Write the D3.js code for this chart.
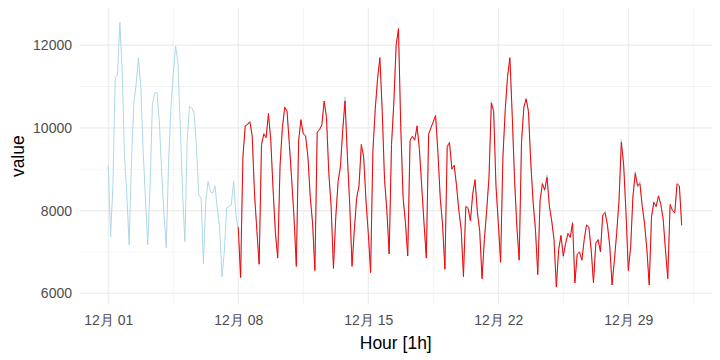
<!DOCTYPE html>
<html><head><meta charset="utf-8">
<script src="https://cdn.jsdelivr.net/npm/d3@7/dist/d3.min.js"></script>
<style>
html,body{margin:0;padding:0;background:#fff;}
svg{display:block;font-family:"Liberation Sans","Noto Sans CJK SC",Arial,sans-serif;}
</style></head><body>
<svg id="chart" width="720" height="360"></svg>
<script>
// ---- data (3-hourly readings) ----
const actualStart = "2023-12-01T00:00:00Z";
const fittedStart = "2023-12-08T00:00:00Z";
const stepHours = 3;

const actual = [
  9100, 7370, 8600, 11210, 11300, 12550, 11400, 9300,   // 12-01
  8400, 7170, 9190, 10560, 11050, 11700, 11000, 9500,   // 12-02
  8300, 7170, 8550, 10560, 10850, 10850, 10160, 8950,   // 12-03
  7900, 7100, 9190, 10480, 11300, 11980, 11600, 10080,  // 12-04
  8450, 7250, 9680, 10520, 10480, 10360, 9520, 8380,    // 12-05
  8300, 6720, 8220, 8710, 8460, 8420, 8590, 8020,       // 12-06
  7580, 6400, 7010, 8060, 8100, 8140, 8710, 7900,       // 12-07
  7540, 6420, 9350, 10000, 10120, 10120, 9840, 8460,    // 12-08
  7580, 6720, 9520, 9880, 9800, 10280, 9760, 8550,      // 12-09
  7490, 6890, 9030, 10040, 10440, 10450, 9680, 8790,    // 12-10
  7900, 6720, 9680, 10160, 9880, 9840, 9350, 8380,      // 12-11
  7740, 6610, 9880, 10000, 10040, 10600, 10300, 8950,   // 12-12
  8140, 6650, 7800, 8710, 9110, 10000, 10750, 9350,     // 12-13
  8200, 6700, 7500, 8340, 8550, 9520, 9350, 8300,       // 12-14
  7500, 6600, 9520, 10480, 11130, 11620, 10480, 8790,   // 12-15
  8060, 6970, 9520, 10650, 11940, 12350, 10080, 8380,   // 12-16
  7740, 6950, 9680, 9760, 9720, 9960, 9520, 8630,       // 12-17
  7740, 6870, 9840, 10040, 10120, 10250, 9430, 8340,    // 12-18
  7700, 6620, 9520, 9600, 9030, 9070, 8670, 8060,       // 12-19
  7580, 6440, 8060, 8100, 7780, 8460, 8710, 7980,       // 12-20
  7540, 6400, 7330, 7980, 8870, 10650, 10450, 8630,     // 12-21
  7740, 6800, 9350, 10400, 11210, 11660, 10320, 8790,   // 12-22
  7660, 6850, 9680, 10440, 10730, 10360, 9190, 8220,    // 12-23
  7580, 6500, 8220, 8670, 8460, 8870, 8140, 7780,       // 12-24
  7330, 6200, 7090, 7370, 6850, 7250, 7410, 7370,       // 12-25
  7740, 6300, 6930, 6970, 6810, 7250, 7660, 7620,       // 12-26
  7090, 6280, 7250, 7250, 7050, 7860, 7980, 7700,       // 12-27
  7170, 6260, 6770, 7500, 8220, 9720, 9110, 7980,       // 12-28
  6600, 7150, 8300, 8950, 8550, 8710, 8140, 7660,       // 12-29
  7090, 6250, 7820, 8220, 8080, 8380, 8140, 7820,       // 12-30
  7090, 6400, 8100, 8060, 7920, 8590, 8550, 7620        // 12-31
];

const fitted = [
  7600, 6380, 9300, 10050, 10080, 10150, 9800, 8400,    // 12-08
  7520, 6700, 9600, 9850, 9760, 10350, 9700, 8500,      // 12-09
  7450, 6850, 9100, 10000, 10500, 10400, 9600, 8750,    // 12-10
  7850, 6650, 9700, 10200, 9850, 9800, 9300, 8320,      // 12-11
  7700, 6550, 9900, 9950, 10080, 10650, 10250, 8900,    // 12-12
  8100, 6600, 7850, 8700, 9050, 9950, 10650, 9300,      // 12-13
  8150, 6650, 7550, 8300, 8600, 9600, 9300, 8250,       // 12-14
  7450, 6500, 9450, 10450, 11200, 11700, 10400, 8750,   // 12-15
  8000, 6950, 9600, 10600, 12000, 12400, 10000, 8300,   // 12-16
  7700, 6900, 9700, 9800, 9700, 10050, 9500, 8600,      // 12-17
  7700, 6850, 9850, 10000, 10150, 10300, 9400, 8300,    // 12-18
  7650, 6580, 9550, 9650, 9000, 9100, 8600, 8000,       // 12-19
  7550, 6400, 8100, 8050, 7750, 8400, 8750, 7950,       // 12-20
  7500, 6350, 7300, 8000, 8800, 10600, 10400, 8600,     // 12-21
  7700, 6750, 9300, 10450, 11250, 11700, 10300, 8750,   // 12-22
  7600, 6800, 9650, 10500, 10700, 10400, 9150, 8200,    // 12-23
  7550, 6450, 8250, 8650, 8500, 8800, 8100, 7750,       // 12-24
  7300, 6150, 7050, 7400, 6900, 7200, 7450, 7350,       // 12-25
  7700, 6250, 6950, 7000, 6800, 7300, 7650, 7600,       // 12-26
  7050, 6250, 7200, 7300, 7000, 7900, 7950, 7650,       // 12-27
  7150, 6200, 6800, 7450, 8250, 9650, 9100, 7950,       // 12-28
  6550, 7100, 8350, 8900, 8600, 8650, 8100, 7700,       // 12-29
  7050, 6200, 7850, 8200, 8100, 8350, 8150, 7800,       // 12-30
  7050, 6350, 8150, 8000, 7950, 8650, 8600, 7650        // 12-31
];

const xTickDates  = ["2023-12-01T00:00:00Z","2023-12-08T00:00:00Z","2023-12-15T00:00:00Z","2023-12-22T00:00:00Z","2023-12-29T00:00:00Z"];
const xTickLabels = ["12月 01","12月 08","12月 15","12月 22","12月 29"];
const xMinorDates = ["2023-12-04T12:00:00Z","2023-12-11T12:00:00Z","2023-12-18T12:00:00Z","2023-12-25T12:00:00Z","2024-01-01T12:00:00Z"];
const xDomainDates = ["2023-11-29T10:51:00Z","2024-01-02T12:09:00Z"];
const yTicks = [6000, 8000, 10000, 12000];
const yMinor = [7000, 9000, 11000];
const yDomain = [5724, 12906];
const xTitle = "Hour [1h]";
const yTitle = "value";

// ---- build ----
const H = 3600 * 1000;
const toSeries = (vals, start) => vals.map((v, i) => ({t: new Date(new Date(start).getTime() + i * stepHours * H), v}));
const actualData = toSeries(actual, actualStart);
const fittedData = toSeries(fitted, fittedStart);

const panel = {left: 79.5, right: 712, top: 7.7, bottom: 304.7};
const x = d3.scaleUtc().domain(xDomainDates.map(d => new Date(d))).range([panel.left, panel.right]);
const y = d3.scaleLinear().domain(yDomain).range([panel.bottom, panel.top]);

const svg = d3.select("#chart");
const grid = svg.append("g");
const gridColor = "#EBEBEB";

grid.selectAll(".ymin").data(yMinor).join("line")
  .attr("x1", panel.left).attr("x2", panel.right)
  .attr("y1", d => y(d)).attr("y2", d => y(d))
  .attr("stroke", gridColor).attr("stroke-width", 0.6);
grid.selectAll(".xmin").data(xMinorDates).join("line")
  .attr("x1", d => x(new Date(d))).attr("x2", d => x(new Date(d)))
  .attr("y1", panel.top).attr("y2", panel.bottom)
  .attr("stroke", gridColor).attr("stroke-width", 0.6);
grid.selectAll(".ymaj").data(yTicks).join("line")
  .attr("x1", panel.left).attr("x2", panel.right)
  .attr("y1", d => y(d)).attr("y2", d => y(d))
  .attr("stroke", gridColor).attr("stroke-width", 1.1);
grid.selectAll(".xmaj").data(xTickDates).join("line")
  .attr("x1", d => x(new Date(d))).attr("x2", d => x(new Date(d)))
  .attr("y1", panel.top).attr("y2", panel.bottom)
  .attr("stroke", gridColor).attr("stroke-width", 1.1);

const line = d3.line().x(d => x(d.t)).y(d => y(d.v));
svg.append("path").datum(actualData).attr("d", line)
  .attr("fill", "none").attr("stroke", "#ADD8E6").attr("stroke-width", 1).attr("stroke-linejoin", "round");
svg.append("path").datum(fittedData).attr("d", line)
  .attr("fill", "none").attr("stroke", "#FF0000").attr("stroke-width", 1).attr("stroke-linejoin", "round");

// axes
const xAxis = d3.axisBottom(x)
  .tickValues(xTickDates.map(d => new Date(d)))
  .tickFormat((d, i) => xTickLabels[i])
  .tickSize(0).tickPadding(10);
const gx = svg.append("g").attr("transform", `translate(0,${panel.bottom})`).call(xAxis);
gx.select(".domain").remove();
gx.selectAll("text").attr("fill", "#4D4D4D").style("font-size", "14px");

const yAxis = d3.axisLeft(y).tickValues(yTicks).tickFormat(d3.format("d")).tickSize(0).tickPadding(7.5);
const gy = svg.append("g").attr("transform", `translate(${panel.left},0)`).call(yAxis);
gy.select(".domain").remove();
gy.selectAll("text").attr("fill", "#4D4D4D").style("font-size", "14px");

svg.append("text").attr("x", (panel.left + panel.right) / 2).attr("y", 349)
  .attr("text-anchor", "middle").attr("fill", "#000").style("font-size", "17.5px").text(xTitle);
svg.append("text").attr("transform", `translate(24,${(panel.top + panel.bottom) / 2}) rotate(-90)`)
  .attr("text-anchor", "middle").attr("fill", "#000").style("font-size", "17.5px").text(yTitle);
</script>
</body></html>
